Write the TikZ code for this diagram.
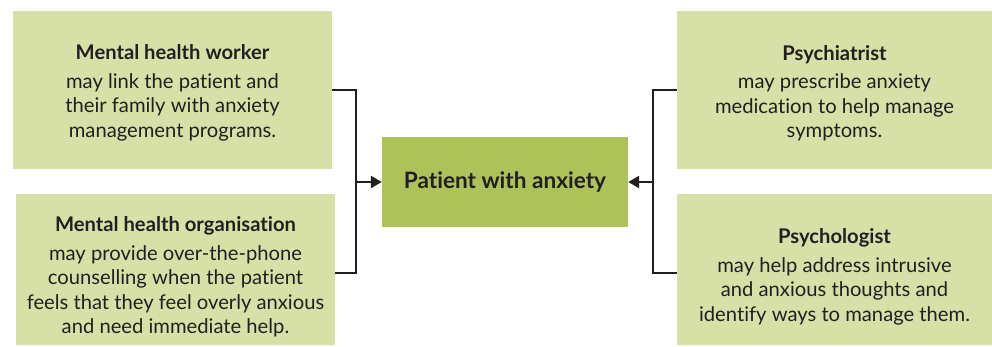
\documentclass[tikz,border=0pt]{standalone}
\usepackage{fontspec}
\setmainfont{Lato}[Ligatures=NoCommon]
\usetikzlibrary{arrows.meta}
\definecolor{boxlight}{HTML}{D6E0A7}
\definecolor{boxmid}{HTML}{AEC25A}
\definecolor{ink}{HTML}{231F20}
\begin{document}
\begin{tikzpicture}[x=1pt,y=-1pt,
  rolebox/.style={fill=boxlight, inner sep=0pt},
  roletext/.style={inner sep=0pt, align=center, text=ink,
    font=\fontsize{20.2}{24.5}\selectfont},
  hub/.style={fill=boxmid, minimum width=246pt, minimum height=90pt,
    inner sep=0pt, text=ink, font=\fontsize{22.6}{27}\selectfont\bfseries},
  link/.style={draw=ink, line width=2.5pt},
  feed/.style={link, -{Triangle[length=11pt,width=12pt]}}]
\useasboundingbox (0,0) rectangle (992,346);

% central node
\node[hub] (hub) at (505,182) {Patient with anxiety};

% supporting role boxes
\node[rolebox, minimum width=319pt, minimum height=158pt] (mhw) at (172.5,90) {};
\node[rolebox, minimum width=319pt, minimum height=151pt] (mho) at (175.5,269.5) {};
\node[rolebox, minimum width=315pt, minimum height=158pt] (psy1) at (834.5,90) {};
\node[rolebox, minimum width=315pt, minimum height=151pt] (psy2) at (834.5,269.5) {};

% role descriptions
\node[roletext] (mhwtext) at ([yshift=-3pt]mhw.center)
  {\textbf{Mental health worker}\\[4pt]
   may link the patient and\\
   their family with anxiety\\
   management programs.};
\node[roletext] (mhotext) at ([yshift=-7.5pt]mho.center)
  {\textbf{Mental health organisation}\\[4pt]
   may provide over-the-phone\\
   counselling when the patient\\
   feels that they feel overly anxious\\
   and need immediate help.};
\node[roletext] (psy1text) at ([yshift=-3pt]psy1.center)
  {\textbf{Psychiatrist}\\[4pt]
   may prescribe anxiety\\
   medication to help manage\\
   symptoms.};
\node[roletext] (psy2text) at ([yshift=-7.5pt]psy2.center)
  {\textbf{Psychologist}\\[4pt]
   may help address intrusive\\
   and anxious thoughts and\\
   identify ways to manage them.};

% bracket connectors
\coordinate (lj) at (356,182);
\coordinate (rj) at (653,182);
\draw[link] (mhw.east) -| (lj) |- ([yshift=-3.5pt]mho.east);
\draw[feed] (lj) -- (hub.west);
\draw[link] (psy1.west) -| (rj) |- ([yshift=-3.5pt]psy2.west);
\draw[feed] (rj) -- (hub.east);
\end{tikzpicture}
\end{document}
